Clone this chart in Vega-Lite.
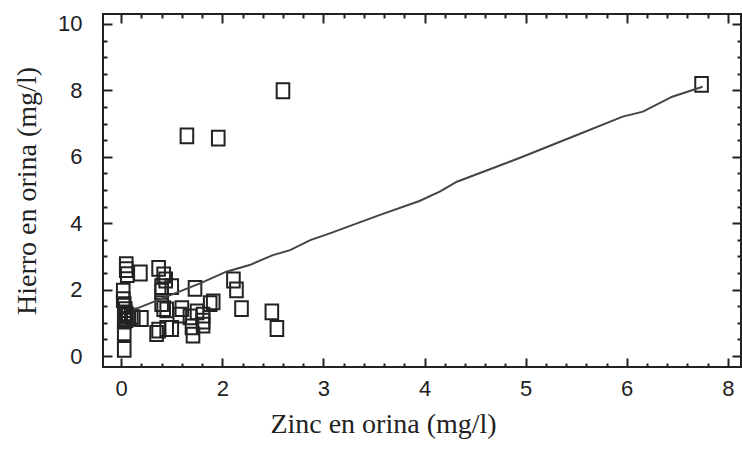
{
  "$schema": "https://vega.github.io/schema/vega-lite/v6.json",
  "width": 638,
  "height": 353,
  "autosize": "none",
  "padding": {"left": 103, "top": 14, "right": 1, "bottom": 82},
  "background": "white",
  "config": {
    "view": {"stroke": "#222", "strokeWidth": 2},
    "axis": {
      "domain": false,
      "grid": false,
      "tickColor": "#222",
      "tickWidth": 2,
      "labelFont": "Liberation Sans",
      "labelFontSize": 22,
      "labelColor": "#222",
      "titleFont": "Liberation Serif",
      "titleFontSize": 28,
      "titleFontWeight": "normal",
      "titleColor": "#222"
    }
  },
  "layer": [
    {
      "data": {
        "values": [
          {"zinc": 0.65, "hierro": 6.63}, {"zinc": 0.96, "hierro": 6.56}, {"zinc": 1.60, "hierro": 7.99}, {"zinc": 5.74, "hierro": 8.18},
          {"zinc": 0.05, "hierro": 2.75}, {"zinc": 0.05, "hierro": 2.6}, {"zinc": 0.06, "hierro": 2.45}, {"zinc": 0.19, "hierro": 2.5},
          {"zinc": 0.02, "hierro": 1.95}, {"zinc": 0.02, "hierro": 1.7}, {"zinc": 0.03, "hierro": 1.55}, {"zinc": 0.04, "hierro": 1.4},
          {"zinc": 0.04, "hierro": 1.3}, {"zinc": 0.05, "hierro": 1.25}, {"zinc": 0.07, "hierro": 1.2}, {"zinc": 0.05, "hierro": 1.1},
          {"zinc": 0.03, "hierro": 1.05}, {"zinc": 0.1, "hierro": 1.2}, {"zinc": 0.12, "hierro": 1.15}, {"zinc": 0.2, "hierro": 1.13},
          {"zinc": 0.03, "hierro": 0.7}, {"zinc": 0.03, "hierro": 0.2},
          {"zinc": 0.37, "hierro": 2.64}, {"zinc": 0.42, "hierro": 2.44}, {"zinc": 0.44, "hierro": 2.29}, {"zinc": 0.5, "hierro": 2.09},
          {"zinc": 0.40, "hierro": 2.09}, {"zinc": 0.40, "hierro": 1.95}, {"zinc": 0.40, "hierro": 1.58}, {"zinc": 0.42, "hierro": 1.43},
          {"zinc": 0.45, "hierro": 1.39}, {"zinc": 0.37, "hierro": 0.78}, {"zinc": 0.35, "hierro": 0.68}, {"zinc": 0.45, "hierro": 0.83},
          {"zinc": 0.5, "hierro": 0.83}, {"zinc": 0.6, "hierro": 1.43}, {"zinc": 0.58, "hierro": 1.23}, {"zinc": 0.68, "hierro": 1.18},
          {"zinc": 0.70, "hierro": 0.88}, {"zinc": 0.71, "hierro": 0.63}, {"zinc": 0.73, "hierro": 2.04}, {"zinc": 0.75, "hierro": 1.33},
          {"zinc": 0.81, "hierro": 1.23}, {"zinc": 0.81, "hierro": 0.93}, {"zinc": 0.81, "hierro": 1.05}, {"zinc": 0.88, "hierro": 1.58},
          {"zinc": 0.91, "hierro": 1.63},
          {"zinc": 1.11, "hierro": 2.29}, {"zinc": 1.14, "hierro": 1.99}, {"zinc": 1.19, "hierro": 1.43}, {"zinc": 1.49, "hierro": 1.33},
          {"zinc": 1.54, "hierro": 0.83}
        ]
      },
      "mark": {"type": "point", "shape": "M-0.85,-1H0.85V1H-0.85Z", "size": 220, "filled": false, "stroke": "#222", "strokeWidth": 2, "opacity": 1, "clip": true},
      "encoding": {
        "x": {
          "field": "zinc", "type": "quantitative",
          "scale": {"domain": [-0.18, 6.13], "nice": false, "zero": false},
          "axis": {
            "orient": "bottom",
            "title": "Zinc en orina (mg/l)",
            "titleX": 280,
            "titleAlign": "center",
            "values": [0, 0.2, 0.4, 0.6, 0.8, 1, 1.2, 1.4, 1.6, 1.8, 2, 2.2, 2.4, 2.6, 2.8, 3, 3.2, 3.4, 3.6, 3.8, 4, 4.2, 4.4, 4.6, 4.8, 5, 5.2, 5.4, 5.6, 5.8, 6],
            "labelExpr": "abs(datum.value-round(datum.value))<0.01 ? ['0','2','3','4','5','6','8'][round(datum.value)] : ''",
            "tickSize": {"condition": {"test": "abs(datum.value-round(datum.value))<0.01", "value": -9}, "value": -4},
            "labelPadding": 20,
            "labelFlush": false,
            "labelOverlap": false,
            "titlePadding": 6
          }
        },
        "y": {
          "field": "hierro", "type": "quantitative",
          "scale": {"domain": [-0.33, 10.3], "nice": false, "zero": false},
          "axis": {
            "orient": "left",
            "title": "Hierro en orina (mg/l)",
            "values": [0, 0.5, 1, 1.5, 2, 2.5, 3, 3.5, 4, 4.5, 5, 5.5, 6, 6.5, 7, 7.5, 8, 8.5, 9, 9.5, 10],
            "labelExpr": "datum.value % 2 == 0 ? datum.value : ''",
            "tickSize": {"condition": {"test": "datum.value % 2 == 0", "value": -9}, "value": -4},
            "labelPadding": 30,
            "labelFlush": false,
            "labelOverlap": false,
            "titlePadding": 16
          }
        }
      }
    },
    {
      "data": {
        "values": [
          {"zinc": 0.12, "hierro": 1.39}, {"zinc": 0.78, "hierro": 2.19}, {"zinc": 1.04, "hierro": 2.54}, {"zinc": 1.27, "hierro": 2.74},
          {"zinc": 1.50, "hierro": 3.04}, {"zinc": 1.67, "hierro": 3.19}, {"zinc": 1.87, "hierro": 3.49}, {"zinc": 2.07, "hierro": 3.70},
          {"zinc": 2.56, "hierro": 4.25}, {"zinc": 2.95, "hierro": 4.67}, {"zinc": 3.15, "hierro": 4.95}, {"zinc": 3.32, "hierro": 5.25},
          {"zinc": 3.97, "hierro": 6.0}, {"zinc": 4.47, "hierro": 6.61}, {"zinc": 4.96, "hierro": 7.21}, {"zinc": 5.16, "hierro": 7.36},
          {"zinc": 5.45, "hierro": 7.81}, {"zinc": 5.75, "hierro": 8.11}
        ]
      },
      "mark": {"type": "line", "color": "#444", "strokeWidth": 2},
      "encoding": {
        "x": {
          "field": "zinc", "type": "quantitative",
          "axis": {
            "orient": "top", "title": null, "labels": false,
            "values": [0, 0.2, 0.4, 0.6, 0.8, 1, 1.2, 1.4, 1.6, 1.8, 2, 2.2, 2.4, 2.6, 2.8, 3, 3.2, 3.4, 3.6, 3.8, 4, 4.2, 4.4, 4.6, 4.8, 5, 5.2, 5.4, 5.6, 5.8, 6],
            "tickSize": {"condition": {"test": "abs(datum.value-round(datum.value))<0.01", "value": -9}, "value": -4}
          }
        },
        "y": {
          "field": "hierro", "type": "quantitative",
          "axis": {
            "orient": "right", "title": null, "labels": false,
            "values": [0, 0.5, 1, 1.5, 2, 2.5, 3, 3.5, 4, 4.5, 5, 5.5, 6, 6.5, 7, 7.5, 8, 8.5, 9, 9.5, 10],
            "tickSize": {"condition": {"test": "datum.value % 2 == 0", "value": -9}, "value": -4}
          }
        }
      }
    }
  ],
  "resolve": {"axis": {"x": "independent", "y": "independent"}}
}
